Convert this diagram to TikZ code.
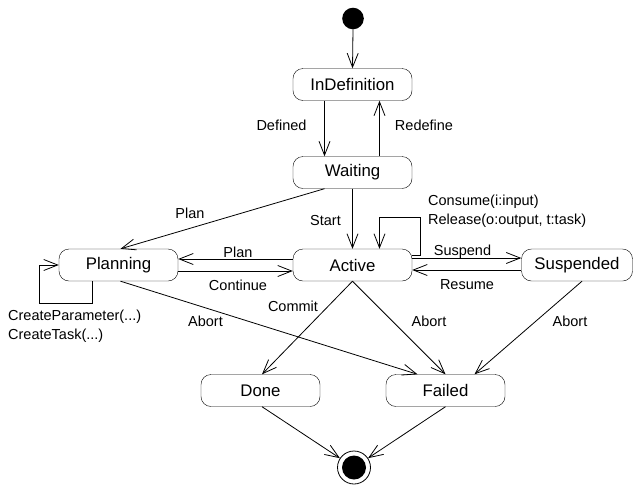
\documentclass[tikz,border=0pt]{standalone}
\usepackage{fontspec}
\setmainfont{Liberation Sans}
\usetikzlibrary{arrows.meta}

\begin{document}
\begin{tikzpicture}[x=1pt, y=-1pt, >={Straight Barb[length=14pt,width=11pt]},
  statebox/.style={draw, rounded corners=10pt, minimum width=119pt, minimum height=32pt,
    inner sep=0pt, font=\fontsize{16.8}{19}\selectfont},
  trans/.style={->, line width=0.8pt},
  lbl/.style={inner sep=0pt, font=\fontsize{14.5}{19}\selectfont}]
  \useasboundingbox (0,0) rectangle (638,491);

  % Initial and final states
  \fill (353,18.5) circle (10.8pt) coordinate (start);
  \node[draw, circle, line width=0.8pt, minimum size=33pt, inner sep=0pt] (final) at (354,467.5) {};
  \fill (final) circle (12pt);

  % States
  \node[statebox] (idef) at (352.5,84.5) {InDefinition};
  \node[statebox] (wait) at (352.5,172.5) {Waiting};
  \node[statebox] (plan) at (118.5,265) {Planning};
  \node[statebox] (act)  at (352.5,265) {Active};
  \node[statebox, minimum width=111pt] (susp) at (577,265) {Suspended};
  \node[statebox] (done) at (260.5,390.5) {Done};
  \node[statebox] (fail) at (445.5,390.5) {Failed};

  % Transitions
  \draw[trans] ([yshift=-10.8pt]start) -- (idef.north);
  \draw[trans] ([xshift=-28pt]idef.south) -- ([xshift=-28pt]wait.north);
  \draw[trans] ([xshift=27pt]wait.north) -- ([xshift=27pt]idef.south);
  \draw[trans] ([xshift=-28pt]wait.south) -- ([xshift=2pt]plan.north);
  \draw[trans] (wait.south) -- (act.north);
  \draw[trans] ([yshift=10pt]act.east) -- ++(8,0) |- ([xshift=27pt,yshift=31pt]act.north)
    -- ([xshift=27pt]act.north);
  \draw[trans] ([yshift=6pt]act.west) -- ([yshift=6pt]plan.east);
  \draw[trans] ([yshift=-6pt]plan.east) -- ([yshift=-6pt]act.west);
  \draw[trans] ([yshift=7pt]act.east) -- ([yshift=7pt]susp.west);
  \draw[trans] ([yshift=-5pt]susp.west) -- ([yshift=-5pt]act.east);
  \draw[trans] ([xshift=-26pt]plan.south) -- ++(0,22) -- ++(-53,0) |- (plan.west);
  \draw[trans] ([xshift=2pt]plan.south) -- ([xshift=-28pt]fail.north);
  \draw[trans] (act.south) -- ([xshift=1.5pt]done.north);
  \draw[trans] (act.south) -- (fail.north);
  \draw[trans] ([xshift=5pt]susp.south) -- ([xshift=29pt]fail.north);
  \draw[trans] ([xshift=1.5pt]done.south) -- (final);
  \draw[trans] (fail.south) -- (final);

  % Labels
  \node[lbl] (lDefined) at (281.5,125) {Defined};
  \node[lbl] (lRedefine) at (424,125) {Redefine};
  \node[lbl] (lPlanA) at (190,213) {Plan};
  \node[lbl] (lStart) at (325.5,221) {Start};
  \node[lbl, align=left, anchor=west] (lConsume) at (428,211.5)
    {Consume(i:input)\\Release(o:output, t:task)};
  \node[lbl] (lPlanB) at (238,252) {Plan};
  \node[lbl] (lContinue) at (238,285) {Continue};
  \node[lbl] (lSuspend) at (462.5,252) {Suspend};
  \node[lbl] (lResume) at (467,285) {Resume};
  \node[lbl, align=left, anchor=west] (lCreate) at (8,326)
    {CreateParameter(...)\\CreateTask(...)};
  \node[lbl] (lAbortA) at (205.5,321) {Abort};
  \node[lbl] (lCommit) at (293,306) {Commit};
  \node[lbl] (lAbortB) at (429,321) {Abort};
  \node[lbl] (lAbortC) at (570,321) {Abort};
\end{tikzpicture}
\end{document}
